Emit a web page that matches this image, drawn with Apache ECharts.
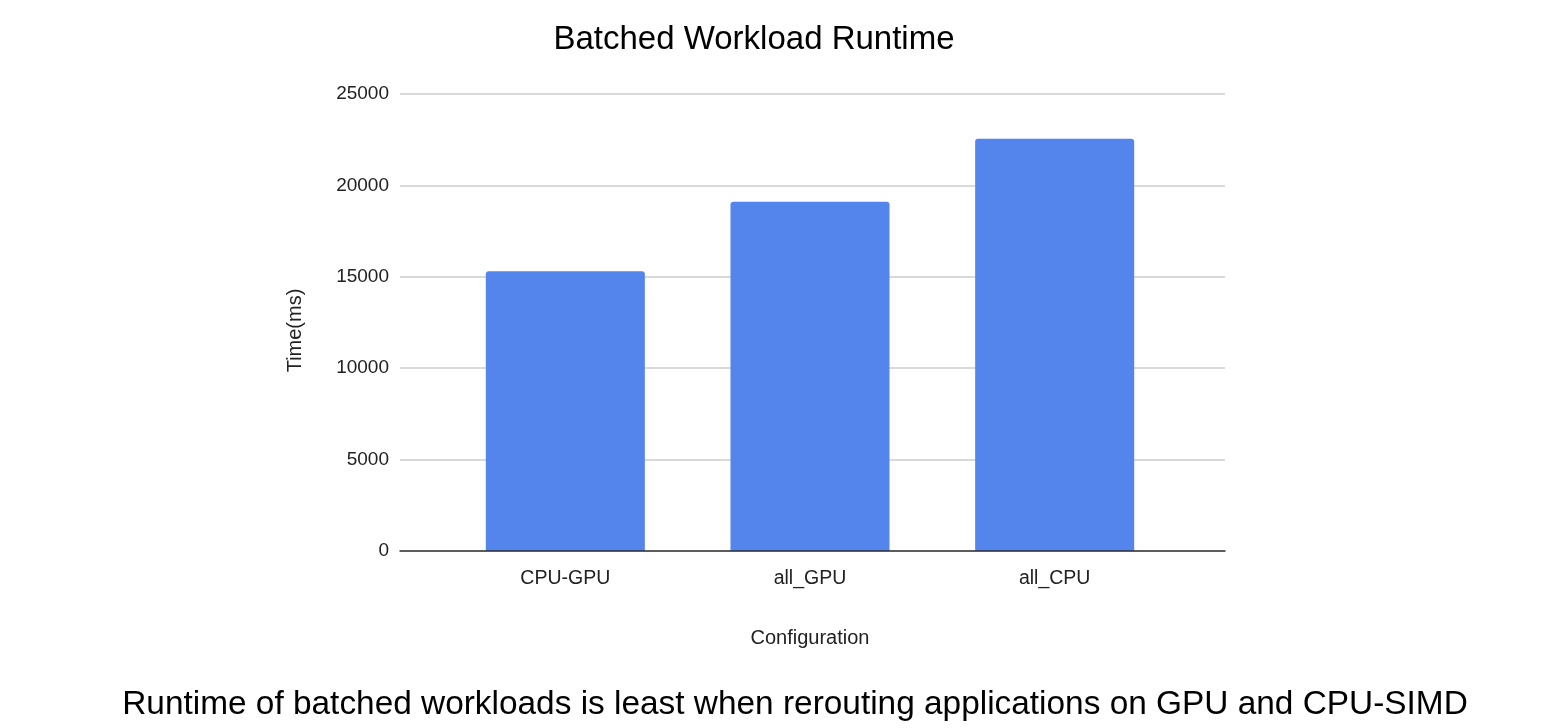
<!DOCTYPE html>
<html>
<head>
<meta charset="utf-8">
<script src="https://cdn.jsdelivr.net/npm/echarts@6/dist/echarts.min.js"></script>
<style>
html,body{margin:0;padding:0;background:#fff;}
#c{width:1548px;height:728px;}
</style>
</head>
<body>
<div id="c"></div>
<script>
const categories = ['CPU-GPU', 'all_GPU', 'all_CPU'];
const runtimeMs = [15300, 19100, 22550];
const yTicks = [0, 5000, 10000, 15000, 20000, 25000];

const FONT = '"Liberation Sans", Arial, sans-serif';
const yMin = yTicks[0], yMax = yTicks[yTicks.length - 1], yStep = yTicks[1] - yTicks[0];
const chart = echarts.init(document.getElementById('c'), null, {renderer: 'canvas'});
chart.setOption({
  animation: false,
  backgroundColor: '#ffffff',
  title: [{
    text: 'Batched Workload Runtime',
    left: 749, top: 18, textAlign: 'center',
    textStyle: {fontFamily: FONT, fontSize: 33, fontWeight: 'normal', color: '#000'}
  }, {
    text: 'Runtime of batched workloads is least when rerouting applications on GPU and CPU-SIMD',
    left: 790, top: 683, textAlign: 'center',
    textStyle: {fontFamily: FONT, fontSize: 33.4, fontWeight: 'normal', color: '#000'}
  }],
  grid: [
    {left: 400, right: 323, top: 94, bottom: 177, containLabel: false},
    {left: 443, right: 371, top: 94, bottom: 177, containLabel: false}
  ],
  xAxis: [{
    gridIndex: 0,
    type: 'value', min: 0, max: 1,
    z: 5,
    axisLine: {show: true, onZero: false, lineStyle: {color: '#333', width: 1.5}},
    axisTick: {show: false},
    axisLabel: {show: false},
    splitLine: {show: false}
  }, {
    gridIndex: 1,
    type: 'category',
    data: categories,
    name: 'Configuration',
    nameLocation: 'middle',
    nameGap: 77,
    nameTextStyle: {fontFamily: FONT, fontSize: 20, color: '#222'},
    axisLine: {show: false},
    axisTick: {show: false},
    axisLabel: {fontFamily: FONT, fontSize: 19.5, color: '#222', margin: 18}
  }],
  yAxis: [{
    gridIndex: 0,
    type: 'value',
    min: yMin, max: yMax, interval: yStep,
    name: 'Time(ms)',
    nameLocation: 'middle',
    nameGap: 95,
    nameTextStyle: {fontFamily: FONT, fontSize: 20, color: '#222', padding: [0, 16, 0, 0]},
    axisLine: {show: false},
    axisTick: {show: false},
    splitLine: {lineStyle: {color: '#cccccc', width: 1.5}},
    axisLabel: {fontFamily: FONT, fontSize: 19, color: '#222', margin: 11,
      formatter: function (v) { return String(v); }}
  }, {
    gridIndex: 1,
    type: 'value',
    min: yMin, max: yMax, interval: yStep,
    show: false
  }],
  series: [{
    type: 'bar',
    xAxisIndex: 1, yAxisIndex: 1,
    data: runtimeMs,
    barWidth: '65%',
    itemStyle: {color: '#5485ec', borderRadius: [3, 3, 0, 0]}
  }]
});
</script>
</body>
</html>
